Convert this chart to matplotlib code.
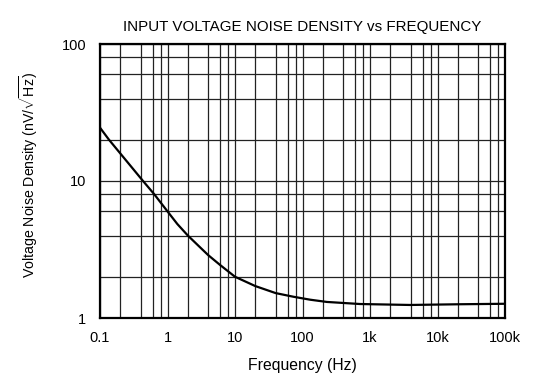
import matplotlib
matplotlib.use("Agg")
import matplotlib.pyplot as plt
from matplotlib.ticker import FixedLocator, NullFormatter

plt.rcParams['font.family'] = ['Liberation Sans', 'DejaVu Sans']
plt.rcParams['mathtext.fontset'] = 'custom'
plt.rcParams['mathtext.rm'] = 'Liberation Sans'
plt.rcParams['mathtext.it'] = 'Liberation Sans:italic'

freq_hz = [0.1, 0.136, 0.434, 0.637, 1.0, 1.4, 2.0, 3.0, 4.0, 6.0, 10, 20, 40, 73, 130, 229, 710, 3900, 21500, 100000]
noise_nv = [24.5, 20, 10, 8, 6, 4.85, 4, 3.3, 2.88, 2.44, 2.0, 1.71, 1.52, 1.43, 1.36, 1.31, 1.265, 1.245, 1.26, 1.27]

x_ticks = [0.1, 1, 10, 100, 1e3, 1e4, 1e5]
x_labels = ['0.1', '1', '10', '100', '1k', '10k', '100k']
y_ticks = [1, 10, 100]
y_labels = ['1', '10', '100']

fig = plt.figure(figsize=(5.57, 3.89), dpi=100)
ax = fig.add_axes([100/557, 1 - 318/389, 405/557, 274/389])
ax.set_xscale('log')
ax.set_yscale('log')
ax.set_xlim(0.1, 1e5)
ax.set_ylim(1, 100)

ax.plot(freq_hz, noise_nv, color='black', lw=1.6, zorder=3, solid_joinstyle='round')

ax.xaxis.set_major_locator(FixedLocator(x_ticks))
ax.set_xticklabels(x_labels)
ax.yaxis.set_major_locator(FixedLocator(y_ticks))
ax.set_yticklabels(y_labels)

xminor = [d * m for d in [0.1, 1, 10, 100, 1e3, 1e4] for m in (2, 4, 6, 8)]
yminor = [d * m for d in [1, 10] for m in (2, 4, 6, 8)]
ax.xaxis.set_minor_locator(FixedLocator(xminor))
ax.yaxis.set_minor_locator(FixedLocator(yminor))
ax.xaxis.set_minor_formatter(NullFormatter())
ax.yaxis.set_minor_formatter(NullFormatter())

ax.grid(True, which='both', color='#222222', lw=0.9)
ax.set_axisbelow(True)
ax.tick_params(which='both', length=0, labelsize=10.5, colors='black')
ax.tick_params(axis='x', pad=9)
ax.tick_params(axis='y', pad=10)
for s in ax.spines.values():
    s.set_linewidth(1.6)
    s.set_color('black')

ax.set_title('INPUT VOLTAGE NOISE DENSITY vs FREQUENCY', fontsize=10.9, pad=9)
ax.set_xlabel('Frequency (Hz)', fontsize=11.3, labelpad=10)
ax.set_ylabel(r'Voltage Noise Density (nV/$\sqrt{\mathrm{Hz}}$)', fontsize=10.2)
ax.yaxis.set_label_coords(-0.148, 0.522)

fig.savefig('out.png', dpi=100)
